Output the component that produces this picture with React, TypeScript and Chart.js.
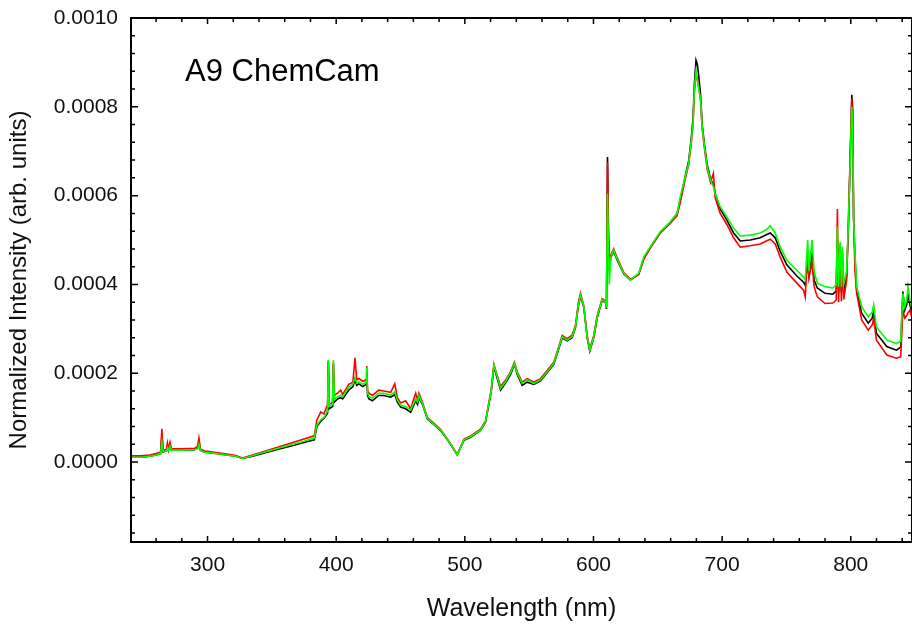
import React, { useEffect, useRef } from 'react';
import { Chart, registerables } from 'chart.js';

Chart.register(...registerables);

const FONT = '"Liberation Sans", Arial, Helvetica, sans-serif';

const chartTitle = 'A9 ChemCam';
const xAxisTitle = 'Wavelength (nm)';
const yAxisTitle = 'Normalized Intensity (arb. units)';

const wavelength = [
  240.5, 248, 255, 260, 263.5, 264.5, 265.5, 268, 268.8, 269.6,
  270.8, 272, 280, 290, 292.3, 293.3, 294.5, 298, 305, 315,
  322, 327, 335, 345, 355, 365, 375, 383, 385, 388,
  390.4, 393.3, 393.9, 394.6, 397.2, 397.8, 398.6, 401, 403.5, 405,
  409.8, 413, 414.6, 416, 417.7, 420.6, 423.2, 423.7, 424.4, 425.5,
  428.2, 433, 437, 442.4, 445.5, 447.6, 450.1, 454, 457.9, 461.8,
  463.3, 464.3, 467, 470.9, 476, 481.2, 487.4, 494.1, 499.3, 504.5,
  512.2, 516.1, 518.4, 520.5, 522.6, 525.2, 527.8, 531.6, 535.5, 538.6,
  540.7, 544.6, 548.5, 553.6, 558.8, 564, 569.1, 571.7, 575.7, 579.5,
  583.4, 586, 588.3, 589.9, 592.5, 595.1, 597.1, 600.2, 602.9, 606.7,
  609.3, 610.1, 610.9, 611.6, 612.3, 613.4, 615.7, 618.7, 623.5, 628.7,
  635.1, 639.1, 644.2, 652, 659.8, 665, 667.5, 671.4, 674, 676.1,
  677.4, 678.4, 679.7, 680.8, 681.8, 683.2, 684.5, 686.3, 688.4, 691,
  693.2, 694.6, 698.5, 703.7, 708.9, 714.1, 721.9, 729.6, 734.3, 737.4,
  741.3, 745.1, 750.3, 758.1, 763.3, 764.6, 766.5, 767.5, 769.9, 771.5,
  774, 780, 786, 788.7, 789.6, 790.5, 791.8, 792.7, 793.6, 794.5,
  796.8, 798.2, 800.8, 801.5, 802.2, 803.3, 804.6, 808.5, 813.6, 816.7,
  817.8, 819.9, 828, 835.5, 838.8, 840.5, 842, 843.5, 844.5, 846,
  848,
];

const greenSeries = [
  1.1e-5, 1.1e-5, 1.3e-5, 1.6e-5, 1.9e-5, 4.5e-5, 2.3e-5, 2.5e-5, 3.2e-5, 2.6e-5,
  3.6e-5, 2.7e-5, 2.7e-5, 2.8e-5, 3.0e-5, 4.0e-5, 2.6e-5, 2.2e-5, 2.0e-5, 1.6e-5,
  1.3e-5, 8e-6, 1.4e-5, 2.3e-5, 3.1e-5, 3.9e-5, 4.7e-5, 5.4e-5, 8.3e-5, 9.5e-5,
  1.0e-4, 1.15e-4, 2.3e-4, 1.25e-4, 1.3e-4, 2.3e-4, 1.4e-4, 1.47e-4, 1.5e-4, 1.47e-4,
  1.69e-4, 1.75e-4, 1.9e-4, 1.78e-4, 1.81e-4, 1.75e-4, 1.8e-4, 2.12e-4, 1.55e-4, 1.47e-4,
  1.44e-4, 1.55e-4, 1.55e-4, 1.51e-4, 1.58e-4, 1.4e-4, 1.28e-4, 1.25e-4, 1.17e-4, 1.42e-4,
  1.35e-4, 1.5e-4, 1.32e-4, 9.8e-5, 8.5e-5, 7.2e-5, 4.7e-5, 1.6e-5, 5.0e-5, 5.7e-5,
  7.2e-5, 9.1e-5, 1.28e-4, 1.6e-4, 2.18e-4, 1.92e-4, 1.66e-4, 1.81e-4, 2.0e-4, 2.22e-4,
  2.0e-4, 1.77e-4, 1.85e-4, 1.77e-4, 1.85e-4, 2.03e-4, 2.22e-4, 2.45e-4, 2.82e-4, 2.75e-4,
  2.82e-4, 3.05e-4, 3.54e-4, 3.76e-4, 3.5e-4, 2.82e-4, 2.52e-4, 2.82e-4, 3.27e-4, 3.65e-4,
  3.61e-4, 3.47e-4, 6.05e-4, 4.9e-4, 4.0e-4, 4.6e-4, 4.77e-4, 4.55e-4, 4.25e-4, 4.1e-4,
  4.25e-4, 4.62e-4, 4.85e-4, 5.19e-4, 5.41e-4, 5.6e-4, 5.98e-4, 6.43e-4, 6.73e-4, 7.25e-4,
  7.63e-4, 8.38e-4, 8.8e-4, 8.6e-4, 8.4e-4, 8.2e-4, 7.55e-4, 7.1e-4, 6.65e-4, 6.35e-4,
  6.2e-4, 6.05e-4, 5.75e-4, 5.52e-4, 5.27e-4, 5.09e-4, 5.11e-4, 5.16e-4, 5.23e-4, 5.32e-4,
  5.16e-4, 4.85e-4, 4.55e-4, 4.32e-4, 4.17e-4, 4.1e-4, 5.0e-4, 4.3e-4, 5.0e-4, 4.3e-4,
  4.03e-4, 3.95e-4, 3.92e-4, 3.99e-4, 5.3e-4, 3.95e-4, 4.96e-4, 3.95e-4, 4.85e-4, 4.0e-4,
  4.3e-4, 5.4e-4, 8.0e-4, 7.6e-4, 5.5e-4, 4.7e-4, 3.95e-4, 3.5e-4, 3.27e-4, 3.38e-4,
  3.54e-4, 3.05e-4, 2.75e-4, 2.67e-4, 2.72e-4, 3.8e-4, 3.5e-4, 3.65e-4, 3.95e-4, 3.65e-4,
  3.4e-4,
];

const blackSeries = [
  1.1e-5, 1.1e-5, 1.3e-5, 1.6e-5, 1.9e-5, 6.0e-5, 2.3e-5, 2.5e-5, 3.6e-5, 2.6e-5,
  3.9e-5, 2.7e-5, 2.7e-5, 2.8e-5, 3.2e-5, 4.6e-5, 2.6e-5, 2.2e-5, 2.0e-5, 1.6e-5,
  1.3e-5, 8e-6, 1.3e-5, 2.1e-5, 2.9e-5, 3.6e-5, 4.4e-5, 5.0e-5, 8.0e-5, 9.2e-5,
  9.8e-5, 1.1e-4, 2.25e-4, 1.2e-4, 1.25e-4, 2.2e-4, 1.35e-4, 1.42e-4, 1.45e-4, 1.42e-4,
  1.62e-4, 1.7e-4, 1.85e-4, 1.73e-4, 1.76e-4, 1.7e-4, 1.75e-4, 2.0e-4, 1.5e-4, 1.42e-4,
  1.38e-4, 1.5e-4, 1.5e-4, 1.46e-4, 1.52e-4, 1.35e-4, 1.24e-4, 1.2e-4, 1.12e-4, 1.38e-4,
  1.3e-4, 1.45e-4, 1.3e-4, 9.7e-5, 8.4e-5, 7.1e-5, 4.6e-5, 1.6e-5, 4.9e-5, 5.6e-5,
  7.1e-5, 9.0e-5, 1.26e-4, 1.58e-4, 2.15e-4, 1.88e-4, 1.62e-4, 1.78e-4, 1.97e-4, 2.2e-4,
  1.97e-4, 1.73e-4, 1.8e-4, 1.75e-4, 1.83e-4, 2.01e-4, 2.2e-4, 2.43e-4, 2.8e-4, 2.73e-4,
  2.8e-4, 3.03e-4, 3.52e-4, 3.74e-4, 3.48e-4, 2.8e-4, 2.5e-4, 2.8e-4, 3.25e-4, 3.63e-4,
  3.6e-4, 3.45e-4, 6.87e-4, 5.2e-4, 4.3e-4, 4.6e-4, 4.75e-4, 4.53e-4, 4.24e-4, 4.1e-4,
  4.23e-4, 4.58e-4, 4.83e-4, 5.17e-4, 5.4e-4, 5.6e-4, 5.9e-4, 6.45e-4, 6.78e-4, 7.32e-4,
  7.75e-4, 8.5e-4, 9.05e-4, 8.95e-4, 8.7e-4, 8.3e-4, 7.6e-4, 7.15e-4, 6.7e-4, 6.37e-4,
  6.25e-4, 6.05e-4, 5.7e-4, 5.45e-4, 5.16e-4, 4.98e-4, 5.0e-4, 5.05e-4, 5.12e-4, 5.16e-4,
  5.05e-4, 4.75e-4, 4.44e-4, 4.19e-4, 4.05e-4, 3.98e-4, 4.48e-4, 4.2e-4, 4.7e-4, 4.1e-4,
  3.92e-4, 3.8e-4, 3.78e-4, 3.85e-4, 5.0e-4, 3.8e-4, 4.6e-4, 3.82e-4, 4.5e-4, 3.85e-4,
  4.2e-4, 5.3e-4, 8.27e-4, 7.95e-4, 5.5e-4, 4.6e-4, 3.87e-4, 3.35e-4, 3.13e-4, 3.24e-4,
  3.42e-4, 2.9e-4, 2.6e-4, 2.52e-4, 2.59e-4, 3.84e-4, 3.42e-4, 3.54e-4, 3.8e-4, 3.54e-4,
  3.3e-4,
];

const redSeries = [
  1.4e-5, 1.4e-5, 1.6e-5, 1.9e-5, 2.2e-5, 7.5e-5, 2.6e-5, 2.8e-5, 4.3e-5, 2.9e-5,
  4.5e-5, 3.0e-5, 3.0e-5, 3.1e-5, 3.6e-5, 5.4e-5, 2.9e-5, 2.5e-5, 2.2e-5, 1.8e-5,
  1.5e-5, 9e-6, 1.6e-5, 2.5e-5, 3.4e-5, 4.3e-5, 5.2e-5, 5.9e-5, 9.5e-5, 1.13e-4,
  1.08e-4, 1.3e-4, 2.28e-4, 1.3e-4, 1.35e-4, 2.25e-4, 1.5e-4, 1.55e-4, 1.62e-4, 1.52e-4,
  1.75e-4, 1.8e-4, 2.35e-4, 1.85e-4, 1.88e-4, 1.82e-4, 1.85e-4, 2.16e-4, 1.6e-4, 1.55e-4,
  1.5e-4, 1.62e-4, 1.6e-4, 1.57e-4, 1.76e-4, 1.45e-4, 1.33e-4, 1.38e-4, 1.2e-4, 1.55e-4,
  1.4e-4, 1.55e-4, 1.35e-4, 1.0e-4, 8.7e-5, 7.3e-5, 4.8e-5, 1.7e-5, 5.2e-5, 5.9e-5,
  7.4e-5, 9.3e-5, 1.3e-4, 1.63e-4, 2.2e-4, 1.95e-4, 1.7e-4, 1.84e-4, 2.03e-4, 2.25e-4,
  2.03e-4, 1.8e-4, 1.88e-4, 1.8e-4, 1.88e-4, 2.06e-4, 2.25e-4, 2.48e-4, 2.85e-4, 2.78e-4,
  2.86e-4, 3.08e-4, 3.6e-4, 3.8e-4, 3.52e-4, 2.85e-4, 2.55e-4, 2.85e-4, 3.3e-4, 3.68e-4,
  3.63e-4, 3.5e-4, 6.75e-4, 5.3e-4, 4.4e-4, 4.65e-4, 4.8e-4, 4.58e-4, 4.27e-4, 4.12e-4,
  4.22e-4, 4.57e-4, 4.82e-4, 5.16e-4, 5.38e-4, 5.55e-4, 5.85e-4, 6.38e-4, 6.7e-4, 7.2e-4,
  7.6e-4, 8.3e-4, 8.75e-4, 8.6e-4, 8.45e-4, 8.15e-4, 7.5e-4, 7.05e-4, 6.6e-4, 6.3e-4,
  6.5e-4, 5.95e-4, 5.6e-4, 5.35e-4, 5.05e-4, 4.84e-4, 4.87e-4, 4.91e-4, 4.98e-4, 5.02e-4,
  4.91e-4, 4.62e-4, 4.28e-4, 4.03e-4, 3.87e-4, 3.72e-4, 4.7e-4, 4.15e-4, 4.5e-4, 3.95e-4,
  3.72e-4, 3.57e-4, 3.58e-4, 3.65e-4, 5.7e-4, 3.6e-4, 4.9e-4, 3.62e-4, 4.7e-4, 3.66e-4,
  4.1e-4, 5.5e-4, 8.2e-4, 7.7e-4, 5.5e-4, 4.3e-4, 3.8e-4, 3.2e-4, 2.97e-4, 3.09e-4,
  3.24e-4, 2.75e-4, 2.41e-4, 2.34e-4, 2.37e-4, 3.42e-4, 3.24e-4, 3.3e-4, 3.36e-4, 3.42e-4,
  3.2e-4,
];

const xMin = 240.5;
const xMax = 847.6;
const yMin = -0.00018;
const yMax = 0.001;

const xMajorTicks = [300, 400, 500, 600, 700, 800];
const xMinorTicks = [
  260, 280, 320, 340, 360, 380, 420, 440, 460, 480, 520, 540, 560, 580,
  620, 640, 660, 680, 720, 740, 760, 780, 820, 840,
];
const yMajorTicks = [0, 0.0002, 0.0004, 0.0006, 0.0008, 0.001];
const yMinorTicks = [
  -0.00016, -0.00012, -0.00008, -0.00004, 0.00004, 0.00008, 0.00012, 0.00016,
  0.00024, 0.00028, 0.00032, 0.00036, 0.00044, 0.00048, 0.00052, 0.00056,
  0.00064, 0.00068, 0.00072, 0.00076, 0.00084, 0.00088, 0.00092, 0.00096,
];

const toPoints = (ys: number[]) => wavelength.map((x, i) => ({ x, y: ys[i] }));

const zeroPadding = (s: any) => {
  s.paddingTop = 0;
  s.paddingBottom = 0;
  s.paddingLeft = 0;
  s.paddingRight = 0;
};

const framePlugin = {
  id: 'frameTicks',
  afterDraw(chart: any) {
    const { ctx, chartArea, scales } = chart;
    const { left, right, top, bottom } = chartArea;
    const xs = scales.x;
    const ys = scales.y;
    ctx.save();
    ctx.strokeStyle = '#000';
    ctx.lineWidth = 1.5;
    ctx.beginPath();
    const tick = (x1: number, y1: number, x2: number, y2: number) => {
      ctx.moveTo(x1, y1);
      ctx.lineTo(x2, y2);
    };
    xMajorTicks.forEach((v) => {
      const p = xs.getPixelForValue(v);
      tick(p, bottom, p, bottom - 6);
      tick(p, top, p, top + 6);
    });
    xMinorTicks.forEach((v) => {
      const p = xs.getPixelForValue(v);
      tick(p, bottom, p, bottom - 4);
      tick(p, top, p, top + 4);
    });
    yMajorTicks.forEach((v) => {
      const p = ys.getPixelForValue(v);
      tick(left, p, left + 7, p);
      tick(right, p, right - 7, p);
    });
    yMinorTicks.forEach((v) => {
      const p = ys.getPixelForValue(v);
      tick(left, p, left + 4, p);
      tick(right, p, right - 4, p);
    });
    ctx.stroke();
    ctx.lineWidth = 2;
    ctx.strokeRect(left, top, right - left, bottom - top);
    ctx.fillStyle = '#000';
    ctx.font = `31px ${FONT}`;
    ctx.textAlign = 'left';
    ctx.textBaseline = 'alphabetic';
    ctx.fillText(chartTitle, 185, 81);
    ctx.restore();
  },
};

export default function App() {
  const canvasRef = useRef<HTMLCanvasElement | null>(null);

  useEffect(() => {
    if (!canvasRef.current) return;
    const chart = new Chart(canvasRef.current, {
      type: 'line',
      data: {
        datasets: [
          { label: 'green', data: toPoints(greenSeries), borderColor: '#00ff00', borderWidth: 1.6, pointRadius: 0, tension: 0, fill: false },
          { label: 'red', data: toPoints(redSeries), borderColor: '#ff0000', borderWidth: 1.6, pointRadius: 0, tension: 0, fill: false },
          { label: 'black', data: toPoints(blackSeries), borderColor: '#000000', borderWidth: 1.6, pointRadius: 0, tension: 0, fill: false },
        ],
      },
      options: {
        animation: false,
        responsive: false,
        maintainAspectRatio: false,
        layout: { padding: { top: 18, left: 0, right: 0, bottom: 0 } },
        plugins: { legend: { display: false }, tooltip: { enabled: false }, title: { display: false } },
        scales: {
          x: {
            type: 'linear',
            position: 'bottom',
            min: xMin,
            max: xMax,
            afterBuildTicks: (s: any) => { s.ticks = xMajorTicks.map((value) => ({ value })); },
            afterFit: (s: any) => { s.height = 82; zeroPadding(s); },
            grid: { display: false, drawTicks: false },
            border: { display: false },
            ticks: {
              autoSkip: false,
              maxRotation: 0,
              padding: 11,
              color: '#111',
              font: { family: FONT, size: 21 },
              callback: (v: any) => String(v),
            },
            title: {
              display: true,
              text: xAxisTitle,
              color: '#111',
              font: { family: FONT, size: 25 },
              padding: { top: 0, bottom: 0 },
            },
          },
          y: {
            type: 'linear',
            min: yMin,
            max: yMax,
            afterBuildTicks: (s: any) => { s.ticks = yMajorTicks.map((value) => ({ value })); },
            afterFit: (s: any) => { s.width = 131; zeroPadding(s); },
            grid: { display: false, drawTicks: false },
            border: { display: false },
            ticks: {
              padding: 13,
              color: '#111',
              font: { family: FONT, size: 21 },
              callback: (v: any) => Number(v).toFixed(4),
            },
            title: {
              display: true,
              text: yAxisTitle,
              color: '#111',
              font: { family: FONT, size: 24 },
              padding: { top: 5, bottom: 0 },
            },
          },
        },
      },
      plugins: [framePlugin],
    });
    return () => chart.destroy();
  }, []);

  return (
    <div style={{ position: 'absolute', left: 0, top: 0, width: 912, height: 624, background: '#fff' }}>
      <canvas ref={canvasRef} width={912} height={624} style={{ display: 'block' }} />
    </div>
  );
}
